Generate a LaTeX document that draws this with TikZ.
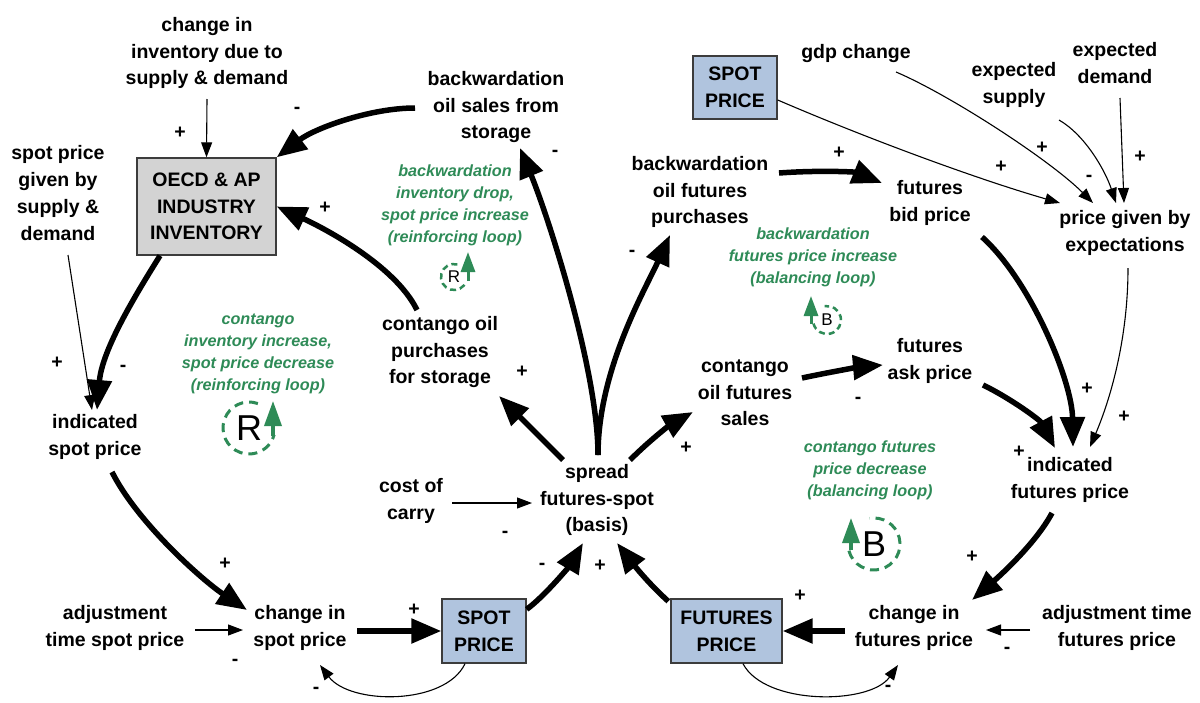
\documentclass[tikz,border=0pt]{standalone}
\usepackage{fontspec}
\setmainfont{Liberation Sans}
\usetikzlibrary{arrows.meta}
\definecolor{loopgreen}{RGB}{46,139,87}
\definecolor{stockblue}{RGB}{176,196,222}
\definecolor{stockgray}{RGB}{211,211,211}
\definecolor{boxedge}{RGB}{60,60,60}

\newcommand\varfont{\fontsize{19.5}{26.7}\selectfont\bfseries}
\newcommand\notefont{\fontsize{16.2}{22}\selectfont\bfseries\itshape}
\newcommand\bigletter{\fontsize{36}{36}\selectfont}
\newcommand\smallletter{\fontsize{17}{17}\selectfont}

\tikzset{
  var/.style={align=center,font=\varfont,inner sep=0pt},
  stock/.style={var,draw=boxedge,line width=1.4pt},
  note/.style={align=center,font=\notefont,text=loopgreen,inner sep=0pt},
  sign/.style={font=\varfont,inner sep=0pt},
  strong/.style={line width=5.5pt,-{Triangle[length=30pt,width=24pt]}},
  weak/.style={line width=1.1pt,-{Triangle[length=15pt,width=11pt]}},
  bigarc/.style={loopgreen,line width=3pt,dash pattern=on 9pt off 6pt},
  smallarc/.style={loopgreen,line width=2.5pt,dash pattern=on 6pt off 4pt},
  bigturn/.style={loopgreen,line width=3.5pt,-{Triangle[length=25pt,width=17pt]}},
  smallturn/.style={loopgreen,line width=3pt,-{Triangle[length=20pt,width=14pt]}},
}

\begin{document}
\begin{tikzpicture}[x=1pt,y=-1pt]
\useasboundingbox[fill=white] (0,0) rectangle (1200,702);

% ---------- variables ----------
\node[var] (cid)  at (207,53)  {change in\\inventory due to\\supply \& demand};
\node[var] (spsd) at (58,193)  {spot price\\given by\\supply \&\\demand};
\node[stock,fill=stockgray,minimum width=139pt,minimum height=97pt] (inv) at (206.5,206.5) {OECD \& AP\\INDUSTRY\\INVENTORY};
\node[var] (bos)  at (496,107) {backwardation\\oil sales from\\storage};
\node[stock,fill=stockblue,minimum width=84pt,minimum height=63pt] (spottop) at (735,87.5) {SPOT\\PRICE};
\node[var] (bofp) at (700,192) {backwardation\\oil futures\\purchases};
\node[var] (gdp)  at (856,53)  {gdp change};
\node[var] (esup) at (1014,85) {expected\\supply};
\node[var] (edem) at (1115,63) {expected\\demand};
\node[var] (fbid) at (930,203) {futures\\bid price};
\node[var] (pexp) at (1125,233) {price given by\\expectations};
\node[var] (isp)  at (95,437)  {indicated\\spot price};
\node[var] (cops) at (440,352) {contango oil\\purchases\\for storage};
\node[var] (cofs) at (745,393) {contango\\oil futures\\sales};
\node[var] (fask) at (930,361) {futures\\ask price};
\node[var] (ifp)  at (1070,480) {indicated\\futures price};
\node[var] (spread) at (597,500) {spread\\futures-spot\\(basis)};
\node[var] (coc)  at (411,501) {cost of\\carry};
\node[var] (atsp) at (115,628) {adjustment\\time spot price};
\node[var] (csp)  at (300,628) {change in\\spot price};
\node[stock,fill=stockblue,minimum width=84pt,minimum height=64pt] (spotbot) at (484,631) {SPOT\\PRICE};
\node[stock,fill=stockblue,minimum width=111pt,minimum height=64pt] (fut) at (726.5,631) {FUTURES\\PRICE};
\node[var] (cfp)  at (914,628) {change in\\futures price};
\node[var] (atfp) at (1117,628) {adjustment time\\futures price};

% ---------- loop notes ----------
\node[note] (n1) at (258,354) {contango\\inventory increase,\\spot price decrease\\(reinforcing loop)};
\node[note] (n2) at (455,205) {backwardation\\inventory drop,\\spot price increase\\(reinforcing loop)};
\node[note] (n3) at (813,257) {backwardation\\futures price increase\\(balancing loop)};
\node[note] (n4) at (870,470) {contango futures\\price decrease\\(balancing loop)};

% ---------- loop markers ----------
\node[inner sep=0pt,font=\bigletter] (rbig) at (249,428) {R};
\draw[bigarc] ([shift={(-70:26)}]rbig.center) arc[start angle=-70,end angle=-345,radius=26];
\draw[bigturn] ([shift={(24,8)}]rbig.center) -- ([shift={(24,-27)}]rbig.center);

\node[inner sep=0pt,font=\smallletter] (rsmall) at (454,277) {R};
\draw[smallarc] ([shift={(-75:13)}]rsmall.center) arc[start angle=-75,end angle=-340,radius=13];
\draw[smallturn] ([shift={(14,4)}]rsmall.center) -- ([shift={(14,-25)}]rsmall.center);

\node[inner sep=0pt,font=\smallletter] (bsmall) at (827,320) {B};
\draw[smallarc] ([shift={(-195:14)}]bsmall.center) arc[start angle=-195,end angle=-460,radius=14];
\draw[smallturn] ([shift={(-16,4)}]bsmall.center) -- ([shift={(-16,-24)}]bsmall.center);

\node[inner sep=0pt,font=\bigletter] (bbig) at (874,544) {B};
\draw[bigarc] ([shift={(-195:26)}]bbig.center) arc[start angle=-195,end angle=-460,radius=26];
\draw[bigturn] ([shift={(-23,6)}]bbig.center) -- ([shift={(-23,-26)}]bbig.center);

% ---------- strong links ----------
\draw[strong] ([shift={(-81,1)}]bos.center) .. controls +(-45,0) and +(38,-29) .. (inv.north east);
\draw[strong] ([shift={(-23,-42)}]cops.center) .. controls +(-22,-45) and +(46,21) .. (inv.east);
\draw[strong] ([shift={(-46.5,0)}]inv.south) .. controls +(-25,40) and +(5,-60) .. ([shift={(2,-27)}]isp.center);
\draw[strong] ([shift={(17,35)}]isp.center) .. controls +(25,50) and +(-45,-30) .. ([shift={(-53,-18)}]csp.center);
\draw[strong] ([shift={(57,3)}]csp.center) -- (spotbot.west);
\draw[strong] ([shift={(0,11)}]spotbot.north east) .. controls +(19,-14) and +(-13,22) .. ([shift={(-14,43)}]spread.center);
\draw[strong] ([shift={(-2,3)}]fut.north west) .. controls +(-20,-18) and +(17,22) .. ([shift={(20,43)}]spread.center);
\draw[strong] ([shift={(-69,3)}]cfp.center) -- (fut.east);
\draw[strong] ([shift={(-18,33)}]ifp.center) .. controls +(-17,32) and +(23,-20) .. ([shift={(58,-28)}]cfp.center);
\draw[strong] ([shift={(53,24)}]fask.center) .. controls +(27,13) and +(-15,-28) .. ([shift={(-15,-32)}]ifp.center);
\draw[strong] ([shift={(52,34)}]fbid.center) .. controls +(48,43) and +(-1,-67) .. ([shift={(3,-33)}]ifp.center);
\draw[strong] ([shift={(57,-15)}]cofs.center) .. controls +(28,-6) and +(-23,2) .. ([shift={(-47,4)}]fask.center);
\draw[strong] ([shift={(79,-19)}]bofp.center) .. controls +(41,-3) and +(-27,-11) .. ([shift={(-48,-20)}]fbid.center);
\draw[strong] ([shift={(1,-45)}]spread.center) .. controls +(0,-85) and +(28,68) .. ([shift={(24,41)}]bos.center);
\draw[strong] ([shift={(1,-45)}]spread.center) .. controls +(0,-85) and +(-25,55) .. ([shift={(-30,43)}]bofp.center);
\draw[strong] ([shift={(-34,-40)}]spread.center) -- ([shift={(59,44)}]cops.center);
\draw[strong] ([shift={(33,-40)}]spread.center) .. controls +(20,-20) and +(-23,13) .. ([shift={(-52,19)}]cofs.center);

% ---------- weak links ----------
\draw[weak] ([shift={(0,46)}]cid.center) -- (inv.north);
\draw[weak] ([shift={(10,62)}]spsd.center) -- ([shift={(-3,-27)}]isp.center);
\draw[weak] ([shift={(80,2)}]atsp.center) -- ([shift={(-57,2)}]csp.center);
\draw[weak] ([shift={(-19,0)}]spotbot.south) .. controls +(-20,42) and +(30,40) .. ([shift={(20,37)}]csp.center);
\draw[weak] ([shift={(16.5,0)}]fut.south) .. controls +(22,42) and +(-28,40) .. ([shift={(-16,37)}]cfp.center);
\draw[weak] ([shift={(-87,2)}]atfp.center) -- ([shift={(72,2)}]cfp.center);
\draw[weak] ([shift={(41,2)}]coc.center) -- ([shift={(-65,3)}]spread.center);
\draw[weak] ([shift={(0,12.5)}]spottop.east) .. controls +(93,40) and +(-80,-23) .. ([shift={(-65,-30)}]pexp.center);
\draw[weak] ([shift={(40,19)}]gdp.center) .. controls +(54,23) and +(-43,-43) .. ([shift={(-32,-30)}]pexp.center);
\draw[weak] ([shift={(45,35)}]esup.center) .. controls +(26,15) and +(-11,-33) .. ([shift={(-9,-30)}]pexp.center);
\draw[weak] ([shift={(5,35)}]edem.center) -- ([shift={(-1,-30)}]pexp.center);
\draw[weak] ([shift={(3,35)}]pexp.center) .. controls +(0,72) and +(20,-47) .. ([shift={(20,-33)}]ifp.center);

% ---------- polarities ----------
\node[sign] (p1)  at (297,110) {-};
\node[sign] (p2)  at (180,133) {+};
\node[sign] (p3)  at (325,208) {+};
\node[sign] (p4)  at (123,368) {-};
\node[sign] (p5)  at (57,363)  {+};
\node[sign] (p6)  at (225,564) {+};
\node[sign] (p7)  at (235,662) {-};
\node[sign] (p8)  at (316,690) {-};
\node[sign] (p9)  at (414,610) {+};
\node[sign] (p10) at (542,566) {-};
\node[sign] (p11) at (600,566) {+};
\node[sign] (p12) at (505,534) {-};
\node[sign] (p13) at (522,372) {+};
\node[sign] (p14) at (686,448) {+};
\node[sign] (p15) at (555,153) {-};
\node[sign] (p16) at (632,253) {-};
\node[sign] (p17) at (839,153) {+};
\node[sign] (p18) at (858,400) {-};
\node[sign] (p19) at (1087,389) {+};
\node[sign] (p20) at (1124,417) {+};
\node[sign] (p21) at (1019,452) {+};
\node[sign] (p22) at (972,557) {+};
\node[sign] (p23) at (800,596) {+};
\node[sign] (p24) at (888,688) {-};
\node[sign] (p25) at (1007,650) {-};
\node[sign] (p26) at (1001,167) {+};
\node[sign] (p27) at (1042,148) {+};
\node[sign] (p28) at (1089,178) {-};
\node[sign] (p29) at (1140,157) {+};
\end{tikzpicture}
\end{document}
